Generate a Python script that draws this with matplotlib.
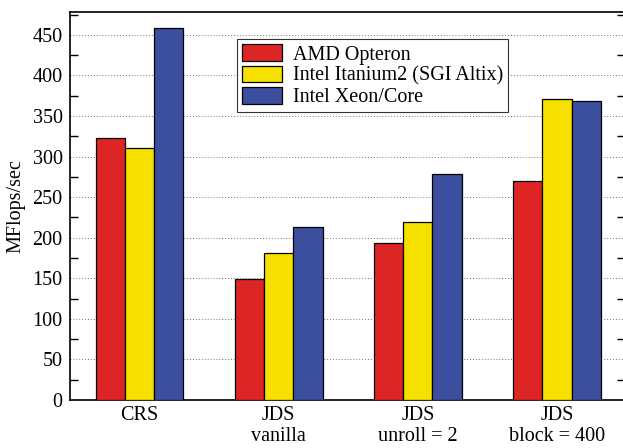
import matplotlib
matplotlib.use("Agg")
import matplotlib.pyplot as plt
import numpy as np

plt.rcParams['font.family'] = ['Liberation Serif', 'DejaVu Serif']

groups = ["CRS", "JDS\nvanilla", "JDS\nunroll = 2", "JDS\nblock = 400"]
series = ["AMD Opteron", "Intel Itanium2 (SGI Altix)", "Intel Xeon/Core"]
amd = [323, 149, 193, 270]
itanium = [311, 181, 220, 371]
xeon = [459, 213, 278, 368]
colors = ["#DD2526", "#F5E000", "#3C4E9E"]

fig = plt.figure(figsize=(6.23, 4.48), dpi=100)
ax = fig.add_axes([0.1116, 0.107, 0.891, 0.866])

x = np.arange(len(groups))
w = 0.21
for i, (vals, lab, c) in enumerate(zip([amd, itanium, xeon], series, colors)):
    ax.bar(x + (i - 1) * w, vals, w, color=c, edgecolor="black", linewidth=0.9,
           label=lab, zorder=3)

ax.set_xlim(-0.504, 3.486)
ax.set_ylim(0, 478)
ax.set_xticks(x)
ax.set_xticklabels(groups, fontsize=14.5, linespacing=1.2)
ax.set_yticks(np.arange(0, 451, 50))
ax.set_yticks(np.arange(25, 478, 50), minor=True)
ax.tick_params(axis="y", which="major", length=0, labelsize=14.5, pad=5)
ax.tick_params(axis="y", which="minor", length=6, width=1, direction="in",
               left=True, right=True)
ax.tick_params(axis="x", length=0, pad=4)
ax.grid(axis="y", which="major", linestyle=(0, (1, 2)), color="#777777",
        linewidth=0.7, zorder=0)
for s in ax.spines.values():
    s.set_linewidth(1.2)

ax.set_ylabel("MFlops/sec", fontsize=14.5, labelpad=5)

leg = ax.legend(loc="upper left", bbox_to_anchor=(0.302, 0.93), fontsize=14.5,
                frameon=True, fancybox=False, edgecolor="black",
                handlelength=2.0, handleheight=0.9, handletextpad=0.5,
                labelspacing=0.05, borderpad=0.25, borderaxespad=0)
leg.get_frame().set_linewidth(0.8)

fig.savefig("out.png", dpi=100)
